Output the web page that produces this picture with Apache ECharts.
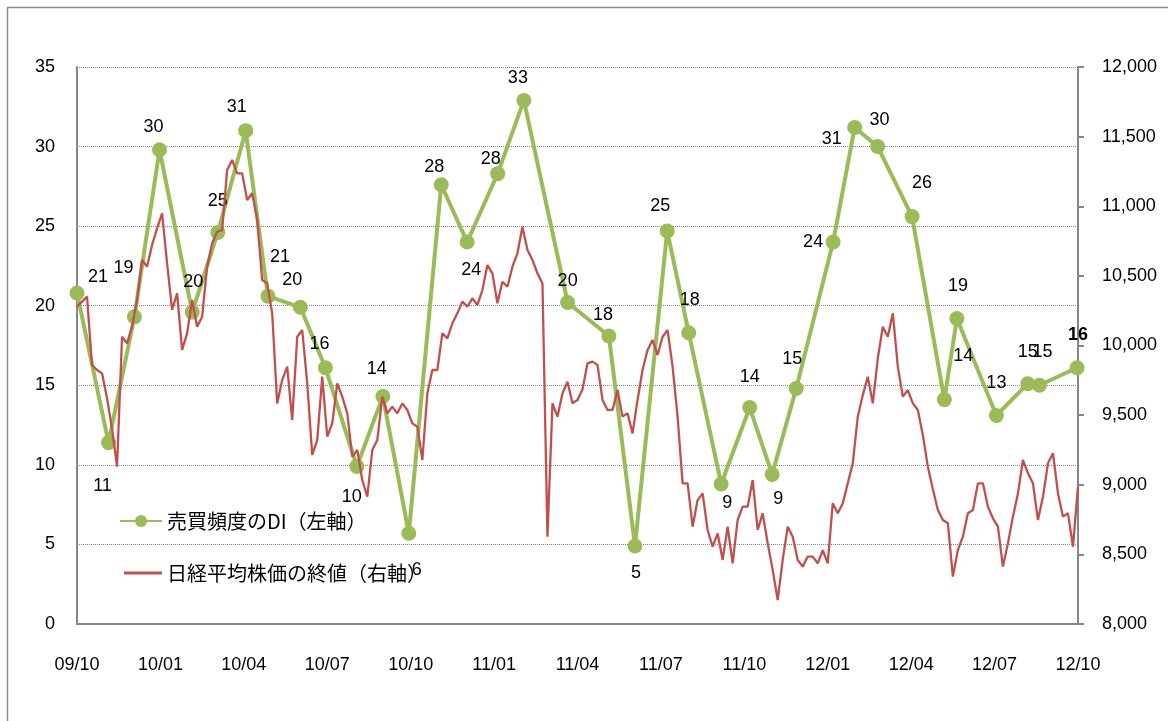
<!DOCTYPE html>
<html>
<head>
<meta charset="utf-8">
<script src="https://cdn.jsdelivr.net/npm/echarts@6.0.0/dist/echarts.min.js"></script>
<style>
  html, body { margin: 0; padding: 0; background: #fff; }
  #chart { width: 1168px; height: 721px; }
</style>
</head>
<body>
<div id="chart"></div>
<script>
  // x軸ラベル (3ヶ月ごと)
  var xTickLabels = ['09/10', '10/01', '10/04', '10/07', '10/10', '11/01', '11/04',
                     '11/07', '11/10', '12/01', '12/04', '12/07', '12/10']

  // 売買頻度のDI (左軸)
  var diDates = ['2009-10-01', '2009-11-05', '2009-12-03', '2009-12-31', '2010-02-05', '2010-03-03',
                 '2010-04-03', '2010-04-27', '2010-06-02', '2010-06-29', '2010-08-03', '2010-09-01',
                 '2010-09-29', '2010-11-04', '2010-12-02', '2011-01-05', '2011-02-03', '2011-03-21',
                 '2011-05-05', '2011-06-03', '2011-07-08', '2011-08-01', '2011-09-06', '2011-10-07',
                 '2011-11-01', '2011-11-27', '2012-01-07', '2012-01-31', '2012-02-24', '2012-04-02',
                 '2012-05-07', '2012-05-21', '2012-07-03', '2012-08-07', '2012-08-20', '2012-09-30']
  var diValues = [20.8, 11.4, 19.3, 29.8, 19.6, 24.6,
                  31.0, 20.6, 19.9, 16.1, 9.9, 14.3,
                  5.7, 27.6, 24.0, 28.3, 32.9, 20.2,
                  18.1, 4.9, 24.7, 18.3, 8.8, 13.6,
                  9.4, 14.8, 24.0, 31.2, 30.0, 25.6,
                  14.1, 19.2, 13.1, 15.1, 15.0, 16.1]

  // 日経平均株価の終値 (右軸), 09/10 から 0.18ヶ月おき
  var nikkeiStepMonths = 0.18
  var nikkeiValues = [
    10279, 10315, 10351, 9860, 9824, 9800, 9621, 9405, 9130, 10063,
    10015, 10135, 10327, 10614, 10566, 10722, 10841, 10949, 10590, 10255,
    10375, 9968, 10087, 10327, 10135, 10207, 10566, 10734, 10817, 10829,
    11260, 11332, 11236, 11236, 11045, 11093, 10901, 10470, 10446, 10231,
    9584, 9752, 9848, 9465, 10063, 10111, 9728, 9214, 9321, 9776,
    9345, 9441, 9728, 9633, 9513, 9202, 9250, 9034, 8914, 9250,
    9321, 9633, 9513, 9561, 9513, 9584, 9537, 9441, 9417, 9178,
    9656, 9824, 9824, 10087, 10051, 10159, 10231, 10315, 10279, 10339,
    10291, 10398, 10578, 10518, 10303, 10458, 10422, 10566, 10662, 10853,
    10686, 10614, 10518, 10446, 8627, 9585, 9489, 9656, 9740, 9585,
    9608, 9685, 9872, 9884, 9860, 9609, 9537, 9537, 9680, 9489,
    9513, 9369, 9609, 9824, 9968, 10039, 9932, 10063, 10111, 9848,
    9489, 9010, 9010, 8699, 8890, 8938, 8675, 8555, 8651, 8460,
    8699, 8436, 8747, 8843, 8843, 9034, 8675, 8795, 8579, 8388,
    8172, 8460, 8699, 8627, 8460, 8412, 8484, 8484, 8436, 8531,
    8436, 8867, 8795, 8867, 9010, 9154, 9489, 9644, 9776, 9585,
    9908, 10135, 10063, 10231, 9848, 9633, 9680, 9585, 9537, 9357,
    9130, 8967, 8819, 8747, 8723, 8340, 8531, 8627, 8795, 8819,
    9010, 9010, 8843, 8759, 8699, 8412, 8579, 8771, 8938, 9178,
    9082, 9010, 8747, 8914, 9154, 9226, 8938, 8771, 8795, 8555,
    8986
  ]

  // ラベルの置き場所 (点からのずれ)
  var diLabelOffset = [[21, -16], [-6, 43], [-11, -49], [-6, -23], [1, -30], [0, -31],
                       [-9, -24], [12, -39], [-8, -27], [-6, -24], [-5, 31], [-6, -27],
                       [8, 37], [-7, -18], [4, 28], [-7, -15], [-6, -22], [0, -22],
                       [-6, -21], [1, 27], [-7, -25], [1, -33], [6, 19], [0, -31],
                       [6, 25], [-4, -29], [-20, 0], [-23, 12], [2, -27], [10, -34],
                       [19, -44], [1, -32], [0, -32], [0, -32], [3, -33], [1, -33]]

  var diName = '売買頻度のDI（左軸）'
  var nikkeiName = '日経平均株価の終値（右軸）'
  var grey = '#868686'

  function toMonth (s) {
    var p = s.split('-').map(Number)
    var days = new Date(p[0], p[1], 0).getDate()
    return (p[0] - 2009) * 12 + (p[1] - 10) + (p[2] - 1) / days
  }

  var diData = diValues.map(function (v, i) {
    var item = { value: [toMonth(diDates[i]), v], label: { offset: diLabelOffset[i] } }
    if (i === diValues.length - 1) item.label.fontWeight = 'bold'
    return item
  })
  var nikkeiData = nikkeiValues.map(function (v, i) {
    return [i * nikkeiStepMonths, v]
  })

  var legendText = { fontSize: 20, color: '#000', fontFamily: 'Noto Sans CJK JP' }

  var option = {
    animation: false,
    backgroundColor: '#fff',
    textStyle: { fontFamily: 'Liberation Sans, Arial, sans-serif' },
    graphic: [{
      type: 'rect',
      shape: { x: 7.5, y: 7.5, width: 1300, height: 1000 },
      style: { fill: 'none', stroke: '#8c8c8c', lineWidth: 1.5 },
      silent: true
    }],
    grid: { left: 77, right: 90, top: 67, bottom: 97 },
    legend: [
      { data: [diName], left: 114, top: 506, itemWidth: 42, itemHeight: 15, itemGap: 6, textStyle: legendText },
      { data: [{ name: nikkeiName, icon: 'rect' }], left: 119, top: 558, itemWidth: 38, itemHeight: 3,
        textStyle: legendText }
    ],
    xAxis: {
      type: 'value',
      min: 0,
      max: 36,
      interval: 3,
      axisLine: { lineStyle: { color: grey, width: 2 } },
      axisTick: { show: false },
      splitLine: { show: false },
      axisLabel: {
        margin: 32,
        fontSize: 18,
        color: '#000',
        formatter: function (v) { return xTickLabels[Math.round(v / 3)] }
      }
    },
    yAxis: [
      {
        type: 'value',
        min: 0,
        max: 35,
        interval: 5,
        axisLine: { show: true, lineStyle: { color: grey, width: 2 } },
        axisTick: { show: false },
        splitLine: { lineStyle: { type: 'dotted', color: grey, width: 1 } },
        axisLabel: { margin: 22, fontSize: 18, color: '#000' }
      },
      {
        type: 'value',
        position: 'right',
        min: 8000,
        max: 12000,
        interval: 500,
        axisLine: { show: true, lineStyle: { color: grey, width: 2 } },
        axisTick: { show: true, inside: false, length: 6, lineStyle: { color: grey, width: 2 } },
        splitLine: { show: false },
        axisLabel: { margin: 24, fontSize: 18, color: '#000' }
      }
    ],
    series: [
      {
        name: diName,
        type: 'line',
        yAxisIndex: 0,
        data: diData,
        symbol: 'circle',
        symbolSize: 15,
        itemStyle: { color: '#9BBB59' },
        lineStyle: { color: '#9BBB59', width: 4 },
        label: {
          show: true,
          position: 'inside',
          fontSize: 18,
          color: '#000',
          formatter: function (p) { return Math.round(p.value[1]) }
        },
        z: 2
      },
      {
        name: nikkeiName,
        type: 'line',
        yAxisIndex: 1,
        data: nikkeiData,
        symbol: 'none',
        lineStyle: { color: '#C0504D', width: 2.3 },
        itemStyle: { color: '#C0504D' },
        z: 3
      }
    ]
  }

  var chart = echarts.init(document.getElementById('chart'))
  chart.setOption(option)
</script>
</body>
</html>
